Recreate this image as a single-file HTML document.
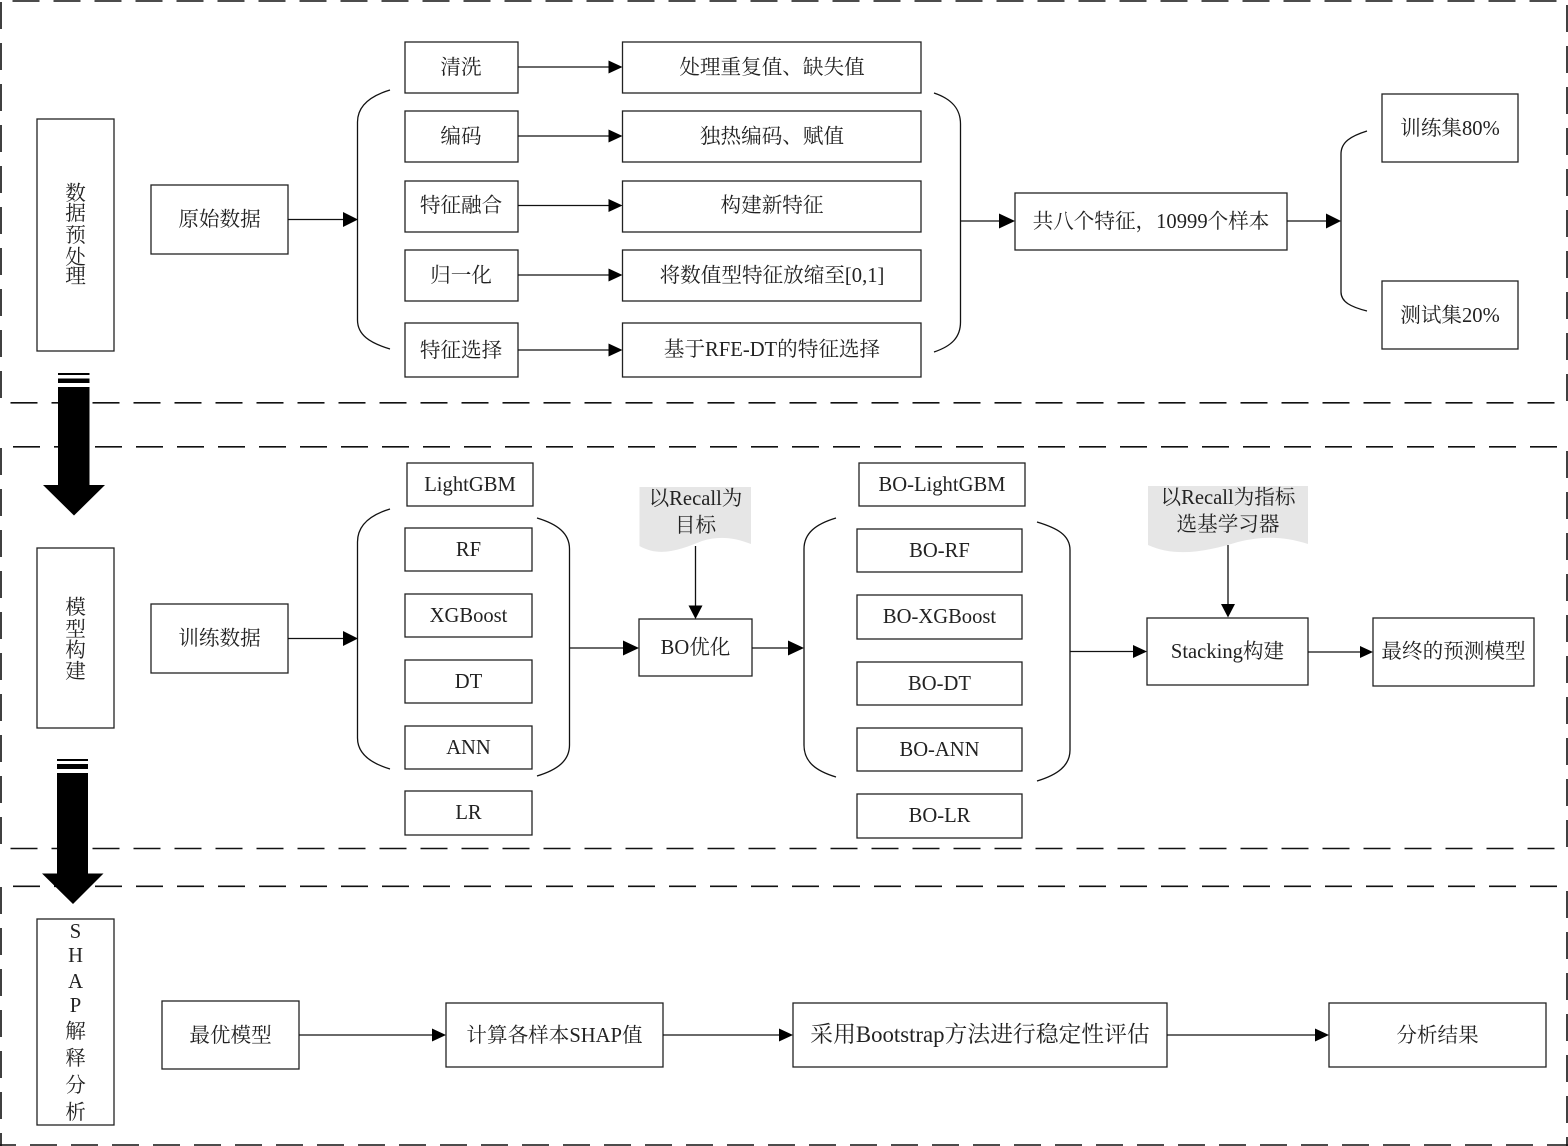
<!DOCTYPE html>
<html><head><meta charset="utf-8"><style>
html,body{margin:0;padding:0;background:#fff}
svg{display:block}
text{font-family:"Liberation Serif","Noto Serif CJK SC",serif;font-size:20.6px;fill:#222;text-anchor:middle}
.b{fill:#fff;stroke:#222;stroke-width:1.3}
.l{fill:none;stroke:#111;stroke-width:1.3}
.d{fill:none;stroke:#111;stroke-width:1.6;stroke-dasharray:27 14}
.h{fill:#000;stroke:none}
.n{fill:#e6e6e6;stroke:none}
</style></head><body>
<svg width="1568" height="1146" viewBox="0 0 1568 1146" xmlns="http://www.w3.org/2000/svg">
<!-- dashed frames -->
<path class="d" d="M12.500 1H1568"/>
<path class="d" d="M10.500 402.800H1556"/>
<path class="d" d="M1 2V399"/>
<path class="d" d="M1567 5V402"/>
<path class="d" d="M13 446.800H1558"/>
<path class="d" d="M10.500 848.500H1556"/>
<path class="d" d="M1 448V845"/>
<path class="d" d="M1567 451V847"/>
<path class="d" d="M13 886.300H1558"/>
<path class="d" d="M-11 1145H1568"/>
<path class="d" d="M1 887V1146"/>
<path class="d" d="M1567 891V1146"/>

<!-- block arrows -->
<path class="h" d="M58 373H89.500V375H58ZM58 378.500H89.500V383H58ZM58 387H89.500V485H105L74 515.500L43 485H58Z"/>
<path class="h" d="M57 759H88V761H57ZM57 764H88V769H57ZM57 773H88V873.500H103.500L73 904L42 873.500H57Z"/>

<!-- section 1 -->
<rect class="b" x="37" y="119" width="77" height="232"/>
<text x="75.500" y="200">数</text><text x="75.500" y="220">据</text><text x="75.500" y="242">预</text><text x="75.500" y="264">处</text><text x="75.500" y="283">理</text>
<rect class="b" x="151" y="185" width="137" height="69"/><text x="219.500" y="226">原始数据</text>
<rect class="b" x="405" y="42" width="113" height="51"/><text x="461" y="74">清洗</text>
<rect class="b" x="405" y="111" width="113" height="51"/><text x="461" y="143">编码</text>
<rect class="b" x="405" y="181" width="113" height="51"/><text x="461" y="212">特征融合</text>
<rect class="b" x="405" y="250" width="113" height="51"/><text x="461" y="282">归一化</text>
<rect class="b" x="405" y="323" width="113" height="54"/><text x="461" y="357">特征选择</text>
<rect class="b" x="622.500" y="42" width="298.500" height="51"/><text x="772" y="74">处理重复值、缺失值</text>
<rect class="b" x="622.500" y="111" width="298.500" height="51"/><text x="772" y="143">独热编码、赋值</text>
<rect class="b" x="622.500" y="181" width="298.500" height="51"/><text x="772" y="212">构建新特征</text>
<rect class="b" x="622.500" y="250" width="298.500" height="51"/><text x="772" y="282">将数值型特征放缩至[0,1]</text>
<rect class="b" x="622.500" y="323" width="298.500" height="54"/><text x="772" y="356">基于RFE-DT的特征选择</text>
<path class="l" d="M390 90C370 96 357.500 106 357.500 122V320C357.500 335 370 343 390 349"/>
<path class="l" d="M934 93C952 99 960.500 109 960.500 124V322C960.500 337 952 346 934 352"/>
<rect class="b" x="1015" y="193" width="272" height="57"/><text x="1151" y="228">共八个特征，10999个样本</text>
<path class="l" d="M1367 131C1351 136 1341 142 1341 154V292C1341 302 1351 307 1367 311"/>
<rect class="b" x="1382" y="94" width="136" height="68"/><text x="1450" y="135">训练集80%</text>
<rect class="b" x="1382" y="281" width="136" height="68"/><text x="1450" y="322">测试集20%</text>
<path class="l" d="M288 219.500H345M518 67H610M518 136H610M518 205.500H610M518 275H610M518 350H610M960 221H1001M1287 221H1327"/>
<path class="h" d="M343 212L358 219.500L343 227ZM608.500 60.500L622.500 67L608.500 73.500ZM608.500 129.500L622.500 136L608.500 142.500ZM608.500 199L622.500 205.500L608.500 212ZM608.500 268.500L622.500 275L608.500 281.500ZM608.500 343.500L622.500 350L608.500 356.500ZM999 213.500L1015 221L999 228.500ZM1326 213.500L1341 221L1326 228.500Z"/>

<!-- section 2 -->
<rect class="b" x="37" y="548" width="77" height="180"/>
<text x="75.500" y="614">模</text><text x="75.500" y="636">型</text><text x="75.500" y="657">构</text><text x="75.500" y="678">建</text>
<rect class="b" x="151" y="604" width="137" height="69"/><text x="219.500" y="645">训练数据</text>
<rect class="b" x="407" y="463" width="126" height="43"/><text x="470" y="491">LightGBM</text>
<rect class="b" x="405" y="528" width="127" height="43"/><text x="468.500" y="556">RF</text>
<rect class="b" x="405" y="594" width="127" height="43"/><text x="468.500" y="622">XGBoost</text>
<rect class="b" x="405" y="660" width="127" height="43"/><text x="468.500" y="688">DT</text>
<rect class="b" x="405" y="726" width="127" height="43"/><text x="468.500" y="754">ANN</text>
<rect class="b" x="405" y="791" width="127" height="44"/><text x="468.500" y="819">LR</text>
<path class="l" d="M390 509C370 515 357.500 525 357.500 542V738C357.500 753 370 763 390 769"/>
<path class="l" d="M537 518C557 524 569.500 533 569.500 549V745C569.500 761 557 770 537 776"/>
<rect class="b" x="639" y="619" width="113" height="57"/><text x="695.500" y="654">BO优化</text>
<path class="l" d="M804 745V549C804 533 816 524 836 518M804 745C804 762 816 771 836 777"/>
<path class="l" d="M1070 550V750C1070 766 1057 775 1037 781M1070 550C1070 535 1057 528 1037 522"/>
<rect class="b" x="859" y="463" width="166" height="43"/><text x="942" y="491">BO-LightGBM</text>
<rect class="b" x="857" y="529" width="165" height="43"/><text x="939.500" y="557">BO-RF</text>
<rect class="b" x="857" y="595" width="165" height="44"/><text x="939.500" y="623">BO-XGBoost</text>
<rect class="b" x="857" y="662" width="165" height="43"/><text x="939.500" y="690">BO-DT</text>
<rect class="b" x="857" y="728" width="165" height="43"/><text x="939.500" y="756">BO-ANN</text>
<rect class="b" x="857" y="794" width="165" height="44"/><text x="939.500" y="822">BO-LR</text>
<path class="n" d="M639.500 487H751V544C733 537 718 536 702 541C682 549 660 558 639.500 546Z"/>
<text x="695.500" y="505">以Recall为</text><text x="695.500" y="532">目标</text>
<path class="n" d="M1148 486H1308V544C1283 536 1262 536 1238 542C1208 551 1176 558 1148 545Z"/>
<text x="1228" y="504">以Recall为指标</text><text x="1228" y="531">选基学习器</text>
<rect class="b" x="1147" y="618" width="161" height="67"/><text x="1227.500" y="658">Stacking构建</text>
<rect class="b" x="1373" y="618" width="161" height="68"/><text x="1453.500" y="658">最终的预测模型</text>
<path class="l" d="M288 638.500H345M569.500 648H626M752 648H790M1070 651.500H1135M1308 652H1361M695.500 546V607M1228 545V605"/>
<path class="h" d="M343 631L358 638.500L343 646ZM623 640.500L639 648L623 655.500ZM788 640.500L804 648L788 655.500ZM1133 645L1147 651.500L1133 658ZM1360 646L1373 652L1360 658ZM688.500 605.500H702.500L695.500 619ZM1221 604H1235L1228 617.500Z"/>

<!-- section 3 -->
<rect class="b" x="37" y="919" width="77" height="206"/>
<text x="75.500" y="938">S</text><text x="75.500" y="962">H</text><text x="75.500" y="988">A</text><text x="75.500" y="1012">P</text>
<text x="75.500" y="1038">解</text><text x="75.500" y="1065">释</text><text x="75.500" y="1092">分</text><text x="75.500" y="1119">析</text>
<rect class="b" x="162" y="1001" width="137" height="68"/><text x="230.500" y="1042">最优模型</text>
<rect class="b" x="446" y="1003" width="217" height="64"/><text x="554.500" y="1042">计算各样本SHAP值</text>
<rect class="b" x="793" y="1003" width="374" height="64"/><text x="980" y="1042" style="font-size:22.800px">采用Bootstrap方法进行稳定性评估</text>
<rect class="b" x="1329" y="1003" width="217" height="64"/><text x="1437.500" y="1042">分析结果</text>
<path class="l" d="M299 1035H433M663 1035H780M1167 1035H1316"/>
<path class="h" d="M432 1028.500L446 1035L432 1041.500ZM779 1028.500L793 1035L779 1041.500ZM1315 1028.500L1329 1035L1315 1041.500Z"/>
</svg>
</body></html>
